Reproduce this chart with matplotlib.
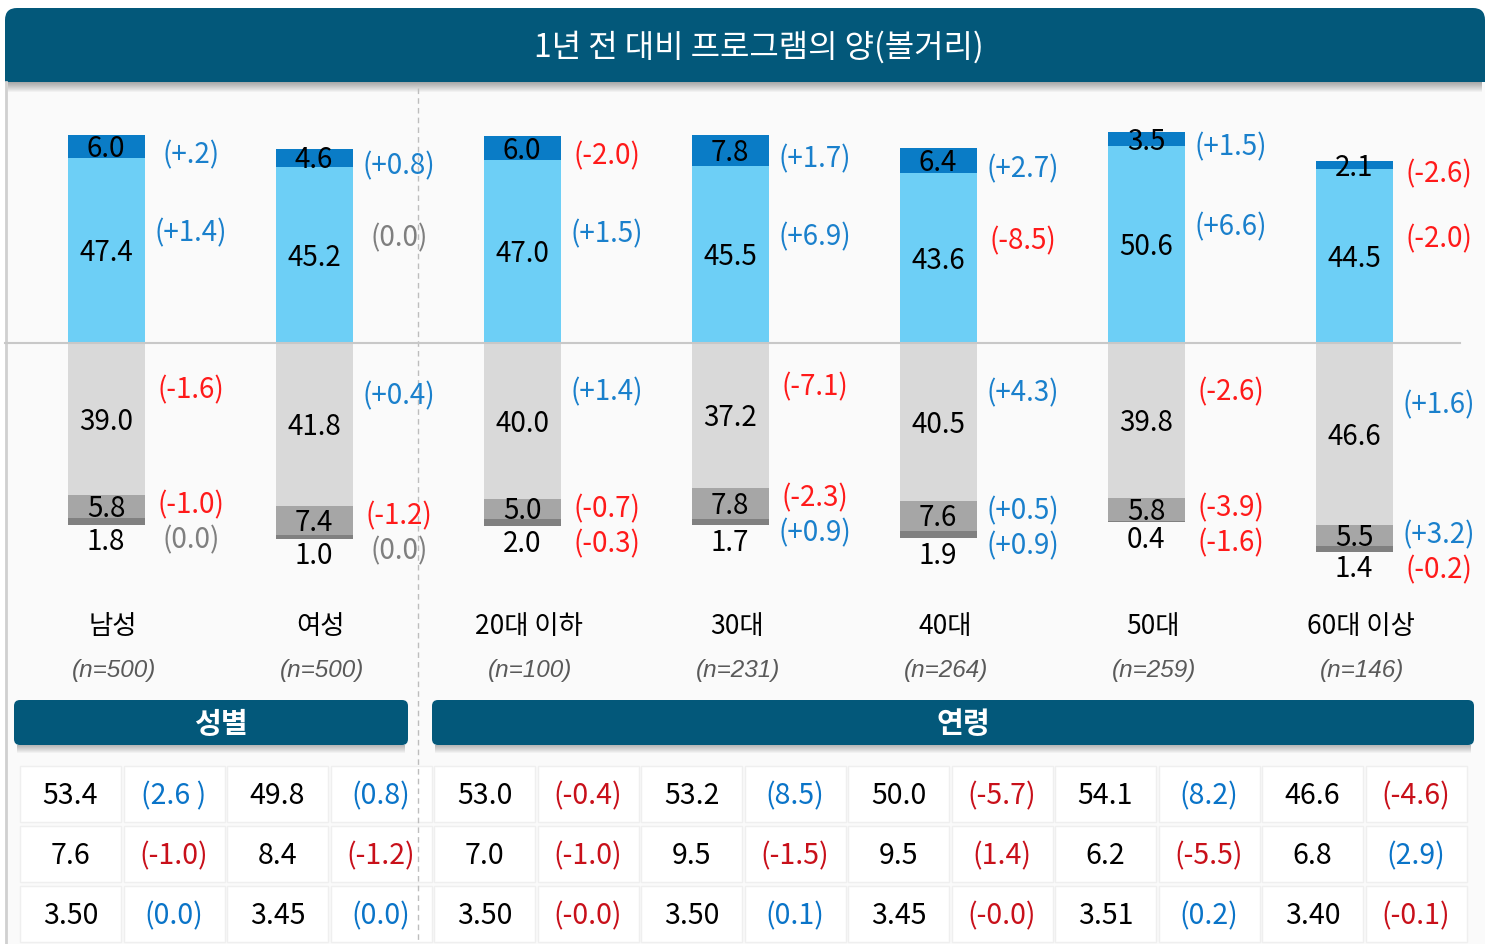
import numpy as np
import matplotlib
matplotlib.use("Agg")
import matplotlib.pyplot as plt
from matplotlib.patches import Rectangle, FancyBboxPatch

plt.rcParams['font.family'] = ['Noto Sans CJK KR', 'DejaVu Sans']

# ---- data ----
title = "1년 전 대비 프로그램의 양(볼거리)"
groups = ["남성", "여성", "20대 이하", "30대", "40대", "50대", "60대 이상"]
n_labels = ["(n=500)", "(n=500)", "(n=100)", "(n=231)", "(n=264)", "(n=259)", "(n=146)"]
sections = ["성별", "연령"]

much_more = [6.0, 4.6, 6.0, 7.8, 6.4, 3.5, 2.1]
more = [47.4, 45.2, 47.0, 45.5, 43.6, 50.6, 44.5]
same = [39.0, 41.8, 40.0, 37.2, 40.5, 39.8, 46.6]
less = [5.8, 7.4, 5.0, 7.8, 7.6, 5.8, 5.5]
much_less = [1.8, 1.0, 2.0, 1.7, 1.9, 0.4, 1.4]

d_much_more = ["(+.2)", "(+0.8)", "(-2.0)", "(+1.7)", "(+2.7)", "(+1.5)", "(-2.6)"]
d_more = ["(+1.4)", "(0.0)", "(+1.5)", "(+6.9)", "(-8.5)", "(+6.6)", "(-2.0)"]
d_same = ["(-1.6)", "(+0.4)", "(+1.4)", "(-7.1)", "(+4.3)", "(-2.6)", "(+1.6)"]
d_less = ["(-1.0)", "(-1.2)", "(-0.7)", "(-2.3)", "(+0.5)", "(-3.9)", "(+3.2)"]
d_much_less = ["(0.0)", "(0.0)", "(-0.3)", "(+0.9)", "(+0.9)", "(-1.6)", "(-0.2)"]

# summary table: value, change, change direction (u=up/blue, d=down/red)
tab_values = [["53.4", "49.8", "53.0", "53.2", "50.0", "54.1", "46.6"],
              ["7.6", "8.4", "7.0", "9.5", "9.5", "6.2", "6.8"],
              ["3.50", "3.45", "3.50", "3.50", "3.45", "3.51", "3.40"]]
tab_changes = [["(2.6 )", "(0.8)", "(-0.4)", "(8.5)", "(-5.7)", "(8.2)", "(-4.6)"],
               ["(-1.0)", "(-1.2)", "(-1.0)", "(-1.5)", "(1.4)", "(-5.5)", "(2.9)"],
               ["(0.0)", "(0.0)", "(-0.0)", "(0.1)", "(-0.0)", "(0.2)", "(-0.1)"]]
tab_dir = [["u", "u", "d", "u", "d", "u", "d"],
           ["d", "d", "d", "d", "d", "d", "u"],
           ["u", "u", "d", "u", "d", "u", "d"]]

# ---- style ----
W, H = 1485, 944
TEAL = "#03587A"
C_MM, C_M, C_S, C_L, C_LL = "#0A7CC6", "#6DCFF6", "#D9D9D9", "#A6A6A6", "#808080"
BLUE, RED, GRAY = "#1A80CC", "#FF1A1A", "#7F7F7F"
TBLUE, TRED = "#0A74C8", "#C8101A"

# layout in pixels
x0_px, step_px = 106, 208      # first bar centre and spacing
base_px, unit_px = 343, 3.9    # baseline and px per percent
bar_w = 77 / step_px
ann_dx = 85 / step_px
dy = 0.7                       # CJK font sits a bit high with va=center

fig = plt.figure(figsize=(W / 100, H / 100), dpi=100)
fig.patch.set_facecolor("white")

# decoration layer in pixel coordinates
bg = fig.add_axes([0, 0, 1, 1], zorder=0)
bg.set_xlim(0, W)
bg.set_ylim(H, 0)
bg.axis("off")


def shadow(ax, x, y, w, depth=10):
    for k in range(1, depth + 1):
        ax.add_patch(Rectangle((x + 3, y), w - 6, k, color="black", alpha=0.035, lw=0))


# panel
bg.add_patch(Rectangle((5, 82), W - 5, H - 82, facecolor="#FAFAFA", edgecolor="none"))
bg.plot([6, 6], [82, H], color="#D0D0D0", lw=2)

# title banner
shadow(bg, 5, 82, W - 5)
bg.add_patch(FancyBboxPatch((5, 8), W - 5, 74, boxstyle="round,pad=0,rounding_size=12",
                            facecolor=TEAL, edgecolor="none"))
bg.add_patch(Rectangle((5, 60), W - 5, 22, facecolor=TEAL, edgecolor="none"))
bg.text(759, 47, title, color="white", fontsize=23, ha="center", va="center")

# divider between sections
bg.plot([418, 418], [88, H], color="#BDBDBD", lw=1, ls=(0, (4, 3)))

# section banners
for (xa, xb), name in zip([(14, 408), (432, 1474)], sections):
    shadow(bg, xa, 745, xb - xa, 8)
    bg.add_patch(FancyBboxPatch((xa, 700), xb - xa, 45, boxstyle="round,pad=0,rounding_size=6",
                                facecolor=TEAL, edgecolor="none"))
    bg.text((xa + xb) / 2 + 10, 724, name, color="white", fontsize=21, ha="center",
            va="center", fontweight="bold")

# summary table
cell_w, cell_h = 101, 56
row_top = [766, 826, 886]
for r in range(3):
    for g in range(len(groups)):
        for c in range(2):
            cx = 20 + g * 207 + c * 103.5
            bg.add_patch(Rectangle((cx, row_top[r]), cell_w, cell_h, facecolor="white",
                                   edgecolor="#EFEFEF", lw=1))
        yc = row_top[r] + cell_h / 2 + 2
        bg.text(20 + g * 207 + cell_w / 2, yc, tab_values[r][g], fontsize=20.5, color="black",
                ha="center", va="center", fontweight="medium")
        bg.text(20 + g * 207 + 103.5 + cell_w / 2, yc, tab_changes[r][g], fontsize=20.5,
                color=TBLUE if tab_dir[r][g] == "u" else TRED, ha="center", va="center")

# ---- bars ----
ax = fig.add_axes([0, 0, 1, 1], zorder=1)
ax.patch.set_alpha(0)
ax.set_xlim(-x0_px / step_px, (W - x0_px) / step_px)
ax.set_ylim((base_px - H) / unit_px, base_px / unit_px)
ax.axis("off")

x = np.arange(len(groups))
more_a = np.array(more)
mm_a = np.array(much_more)
same_a = np.array(same)
less_a = np.array(less)
ll_a = np.array(much_less)

ax.bar(x, more_a, bar_w, color=C_M, lw=0)
ax.bar(x, mm_a, bar_w, bottom=more_a, color=C_MM, lw=0)
ax.bar(x, -same_a, bar_w, color=C_S, lw=0)
ax.bar(x, -less_a, bar_w, bottom=-same_a, color=C_L, lw=0)
ax.bar(x, -ll_a, bar_w, bottom=-(same_a + less_a), color=C_LL, lw=0)
ax.plot([(5 - x0_px) / step_px, (1460 - x0_px) / step_px], [0, 0], color="#C8C8C8", lw=1.5)


def col(s):
    if "+" in s:
        return BLUE
    if "-" in s:
        return RED
    return GRAY


fs = 20
for i in x:
    # values in segments
    ax.text(i, more_a[i] + mm_a[i] / 2 - dy, f"{mm_a[i]:.1f}", ha="center", va="center", fontsize=fs)
    ax.text(i, more_a[i] / 2 - dy, f"{more_a[i]:.1f}", ha="center", va="center", fontsize=fs)
    ax.text(i, -same_a[i] / 2 - dy, f"{same_a[i]:.1f}", ha="center", va="center", fontsize=fs)
    ax.text(i, -same_a[i] - less_a[i] / 2 - dy, f"{less_a[i]:.1f}", ha="center", va="center",
            fontsize=fs)
    bottom = -(same_a[i] + less_a[i] + ll_a[i])
    ax.text(i, bottom - 4.5, f"{ll_a[i]:.1f}", ha="center", va="center", fontsize=fs)

    # changes vs last year
    xa = i + ann_dx
    ax.text(xa, more_a[i] + mm_a[i] / 2 - 2.2, d_much_more[i], color=col(d_much_more[i]),
            ha="center", va="center", fontsize=fs)
    ax.text(xa, more_a[i] / 2 + 4.3, d_more[i], color=col(d_more[i]),
            ha="center", va="center", fontsize=fs)
    ax.text(xa, -same_a[i] / 2 + 7.3, d_same[i], color=col(d_same[i]),
            ha="center", va="center", fontsize=fs)
    y_less = -same_a[i] - 2.7
    ax.text(xa, y_less, d_less[i], color=col(d_less[i]), ha="center", va="center", fontsize=fs)
    ax.text(xa, y_less - 9, d_much_less[i], color=col(d_much_less[i]),
            ha="center", va="center", fontsize=fs)

    # category labels
    ax.text(i + 7 / step_px, (base_px - 627) / unit_px, groups[i], ha="center", va="center",
            fontsize=19)
    ax.text(i + 8 / step_px, (base_px - 671) / unit_px, n_labels[i], ha="center", va="center",
            fontsize=17.5, color="#595959", style="italic", family="Liberation Sans")

fig.savefig("out.png", dpi=100)
